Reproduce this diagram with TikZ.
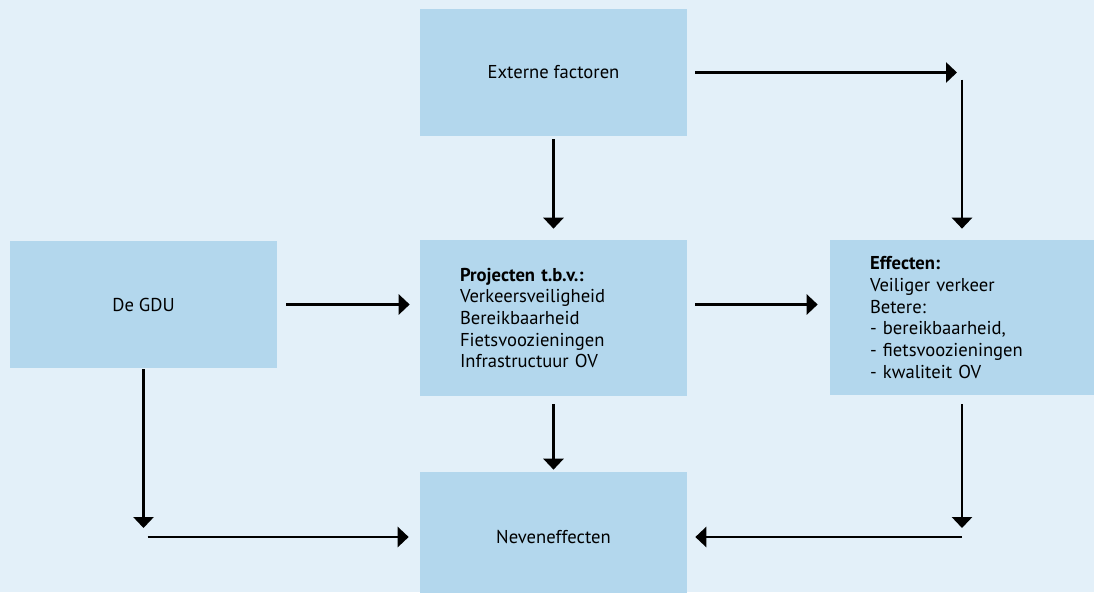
\documentclass[tikz,border=0pt]{standalone}
\usepackage{fontspec}
\setmainfont{PT Sans}
\usetikzlibrary{arrows.meta}
\definecolor{bg}{HTML}{E3F0F9}
\definecolor{boxblue}{HTML}{B3D7ED}

\begin{document}
\begin{tikzpicture}[x=0.02cm, y=-0.02cm,
 font=\fontsize{10.6}{12.3}\selectfont,
 box/.style={fill=boxblue, inner sep=0pt, minimum width=5.34cm, align=center},
 list/.style={box, inner xsep=0.8cm, text width=3.74cm, align=left},
 arr/.style={-{Triangle[width=0.4cm,length=0.22cm]}, line width=0.055cm}]
 \fill[bg] (0,0) rectangle (1094,592);
 \useasboundingbox (0,0) rectangle (1094,592);
 \node[box, minimum height=2.54cm] (EF) at (553.5,72.5) {Externe factoren};
 \node[box, minimum height=2.54cm] (GDU) at (143.5,304.5) {De GDU};
 \node[list, minimum height=3.12cm] (P) at (553.5,318) {\textbf{Projecten t.b.v.:}\\Verkeersveiligheid\\Bereikbaarheid\\Fietsvoozieningen\\Infrastructuur OV};
 \node[list, minimum width=5.28cm, text width=3.68cm, minimum height=3.1cm] (E) at (962,317.5) {\textbf{Effecten:}\\Veiliger verkeer\\Betere:\\- bereikbaarheid,\\- fietsvoozieningen\\- kwaliteit OV};
 \node[box, minimum height=2.6cm] (N) at (553.5,537) {Neveneffecten};
 \coordinate (NE) at (962,72.5);
 \coordinate (SW) at (143.5,537);
 \coordinate (SE) at (962,537);
 \draw[arr, shorten <=0.16cm, shorten >=0.1cm] (EF) -- (NE);
 \draw[arr, shorten <=0.14cm, shorten >=0.22cm] (NE) -- (E);
 \draw[arr, shorten <=0.06cm, shorten >=0.22cm] (EF) -- (P);
 \draw[arr, shorten <=0.18cm, shorten >=0.2cm] (GDU) -- (GDU -| P.west);
 \draw[arr, shorten <=0.16cm, shorten >=0.24cm] (GDU -| P.east) -- (GDU -| E.west);
 \draw[arr, shorten <=0.16cm, shorten >=0.04cm] (P) -- (N);
 \draw[arr, shorten <=0.02cm, shorten >=0.18cm] (GDU) -- (SW);
 \draw[arr, shorten <=0.08cm, shorten >=0.22cm] (SW) -- (N);
 \draw[arr, shorten <=0.18cm, shorten >=0.18cm] (E) -- (SE);
 \draw[arr, shorten >=0.16cm] (SE) -- (N);
\end{tikzpicture}
\end{document}
